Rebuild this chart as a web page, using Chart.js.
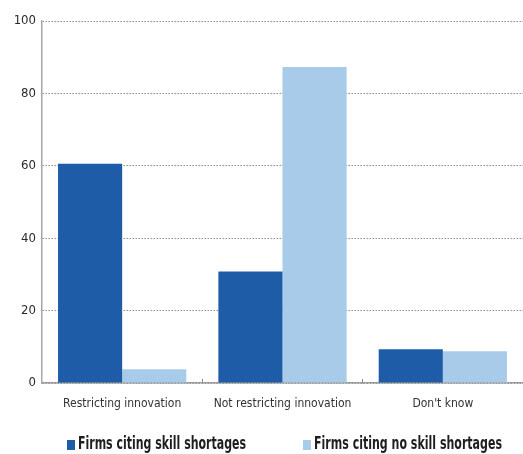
<!DOCTYPE html>
<html>
<head>
<meta charset="utf-8">
<script src="https://cdn.jsdelivr.net/npm/chart.js@4"></script>
<style>
  html, body { margin: 0; padding: 0; background: #fff; }
  #wrap { width: 523px; height: 454px; position: relative; }
</style>
</head>
<body>
<div id="wrap"><canvas id="chart"></canvas></div>
<script>
// data
var categories = ['Restricting innovation', 'Not restricting innovation', "Don't know"];
var seriesNames = ['Firms citing skill shortages', 'Firms citing no skill shortages'];
var skillShortage = [60.6, 30.8, 9.3];
var noSkillShortage = [3.8, 87.3, 8.8];
var yTicks = [0, 20, 40, 60, 80, 100];

var NARROW = "'DejaVu Sans Condensed', 'Liberation Sans Narrow', sans-serif";
var DARK = '#1f5ca8';
var LIGHT = '#a8cbea';

// legend drawn by hand: the original uses a tall, very narrow face,
// so the text is squeezed sideways to the width it has there
var bottomLegend = {
    id: 'bottomLegend',
    afterDraw(chart) {
        const ctx = chart.ctx;
        const xs = [67, 303];
        const widths = [168, 188];
        ctx.save();
        ctx.font = '600 17px ' + NARROW;
        ctx.textBaseline = 'middle';
        ctx.textAlign = 'left';
        chart.data.datasets.forEach((ds, i) => {
            ctx.fillStyle = ds.backgroundColor;
            ctx.fillRect(xs[i], 440, 8, 10);
            const w = ctx.measureText(ds.label).width;
            ctx.save();
            ctx.translate(xs[i] + 11, 445);
            ctx.scale(widths[i] / w, 1);
            ctx.fillStyle = '#1e1e1e';
            ctx.fillText(ds.label, 0, 0);
            ctx.restore();
        });
        ctx.restore();
    }
};

new Chart(document.getElementById('chart'), {
    type: 'bar',
    data: {
        labels: categories,
        datasets: [{
            label: seriesNames[0],
            data: skillShortage,
            backgroundColor: DARK,
            categoryPercentage: 0.8,
            barPercentage: 1.0
        }, {
            label: seriesNames[1],
            data: noSkillShortage,
            backgroundColor: LIGHT,
            categoryPercentage: 0.8,
            barPercentage: 1.0
        }]
    },
    options: {
        responsive: true,
        maintainAspectRatio: false,
        animation: false,
        layout: { padding: { top: 21, right: 0, bottom: 0, left: 0 } },
        plugins: {
            legend: { display: false },
            tooltip: { enabled: false }
        },
        scales: {
            x: {
                afterFit: s => { s.height = 71; },
                grid: {
                    drawOnChartArea: false,
                    tickLength: -4,
                    color: '#8a8a8a'
                },
                border: { color: '#9c9c9c', width: 1.5 },
                ticks: {
                    color: '#333',
                    font: { family: NARROW, size: 12 },
                    padding: 18,
                    autoSkip: false,
                    maxRotation: 0
                }
            },
            y: {
                min: 0,
                max: 100,
                afterFit: s => { s.width = 42; },
                afterBuildTicks: s => { s.ticks = yTicks.map(v => ({ value: v })); },
                grid: {
                    color: '#8c8c8c',
                    lineWidth: 1,
                    drawTicks: false
                },
                // in v4 border.dash styles the grid lines, the axis line stays solid
                border: { color: '#a8a8a8', width: 1.5, dash: [1.5, 1.5] },
                ticks: {
                    color: '#2a2a2a',
                    font: { family: NARROW, size: 13 },
                    padding: 6
                }
            }
        }
    },
    plugins: [bottomLegend]
});
</script>
</body>
</html>
